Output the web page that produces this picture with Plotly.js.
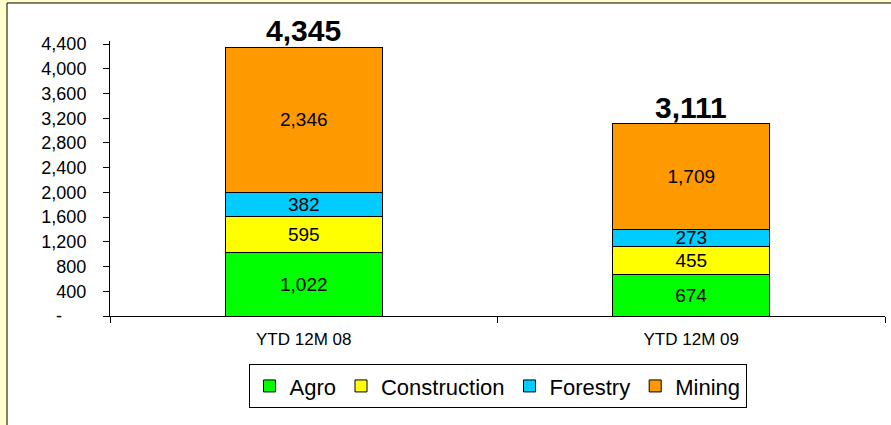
<!DOCTYPE html>
<html>
<head>
<meta charset="utf-8">
<script src="https://cdn.plot.ly/plotly-3.0.1.min.js"></script>
<style>
html,body{margin:0;padding:0;background:#FFFFCC;}
#chart{width:891px;height:425px;}
</style>
</head>
<body>
<div id="chart"></div>
<script>
const categories = ["YTD 12M 08", "YTD 12M 09"];
const agro = [1022, 674];
const construction = [595, 455];
const forestry = [382, 273];
const mining = [2346, 1709];
const totals = [4345, 3111];
const yTickVals = [0, 400, 800, 1200, 1600, 2000, 2400, 2800, 3200, 3600, 4000, 4400];
const yTickText = ["", "400", "800", "1,200", "1,600", "2,000", "2,400", "2,800", "3,200", "3,600", "4,000", "4,400"];
const zeroLabel = "-";

const FONT = "Liberation Sans, Arial, Helvetica, sans-serif";
const fmt = v => v.toLocaleString("en-US");

function series(name, vals, color) {
  return {
    type: "bar", name: name, x: categories, y: vals,
    marker: {color: color, line: {color: "#000000", width: 1}},
    text: vals.map(fmt), textposition: "inside", insidetextanchor: "middle",
    constraintext: "none", cliponaxis: false,
    textfont: {family: FONT, size: 19, color: "#000000"},
    hoverinfo: "x+y+name"
  };
}

const data = [
  series("Agro", agro, "#00FF00"),
  series("Construction", construction, "#FFFF00"),
  series("Forestry", forestry, "#00CCFF"),
  series("Mining", mining, "#FF9900")
];

const annotations = categories.map((c, i) => ({
  x: c, y: totals[i], xref: "x", yref: "y", text: "<b>" + fmt(totals[i]) + "</b>",
  showarrow: false, yanchor: "bottom", yshift: -2,
  font: {family: FONT, size: 30, color: "#000000"}
}));
annotations.push({
  x: 0, xref: "paper", y: 0, yref: "y", text: zeroLabel, showarrow: false,
  xanchor: "right", xshift: -46, font: {family: FONT, size: 18, color: "#000000"}
});

const layout = {
  width: 891, height: 425,
  margin: {l: 110, r: 6, t: 41, b: 109},
  paper_bgcolor: "#FFFFCC",
  plot_bgcolor: "rgba(0,0,0,0)",
  barmode: "stack",
  bargap: 0.595,
  showlegend: true,
  font: {family: FONT, color: "#000000"},
  xaxis: {
    type: "category", showline: true, linecolor: "#000000", linewidth: 1,
    ticks: "outside", tickson: "boundaries", ticklen: 6, tickcolor: "#000000",
    ticklabelstandoff: 8,
    tickfont: {family: FONT, size: 17, color: "#000000"},
    showgrid: false, zeroline: false, fixedrange: true
  },
  yaxis: {
    range: [0, 4450], showline: true, linecolor: "#000000", linewidth: 1,
    ticks: "outside", ticklen: 6, tickcolor: "#000000",
    ticklabelstandoff: 13,
    tickvals: yTickVals, ticktext: yTickText,
    tickfont: {family: FONT, size: 18, color: "#000000"},
    showgrid: false, zeroline: false, fixedrange: true
  },
  legend: {
    orientation: "h", x: 0.5, xanchor: "center", y: -0.175, yanchor: "top",
    traceorder: "normal",
    bgcolor: "#FFFFFF", bordercolor: "#000000", borderwidth: 1,
    font: {family: FONT, size: 22, color: "#000000"},
    itemwidth: 30
  },
  shapes: [{
    type: "rect", xref: "paper", yref: "paper", layer: "below",
    x0: -0.1329, x1: 1.03, y0: -0.45, y1: 1.1382,
    fillcolor: "#FFFFFF", line: {color: "#000000", width: 1}
  }],
  annotations: annotations
};

Plotly.newPlot("chart", data, layout, {displayModeBar: false, staticPlot: true});
</script>
</body>
</html>
